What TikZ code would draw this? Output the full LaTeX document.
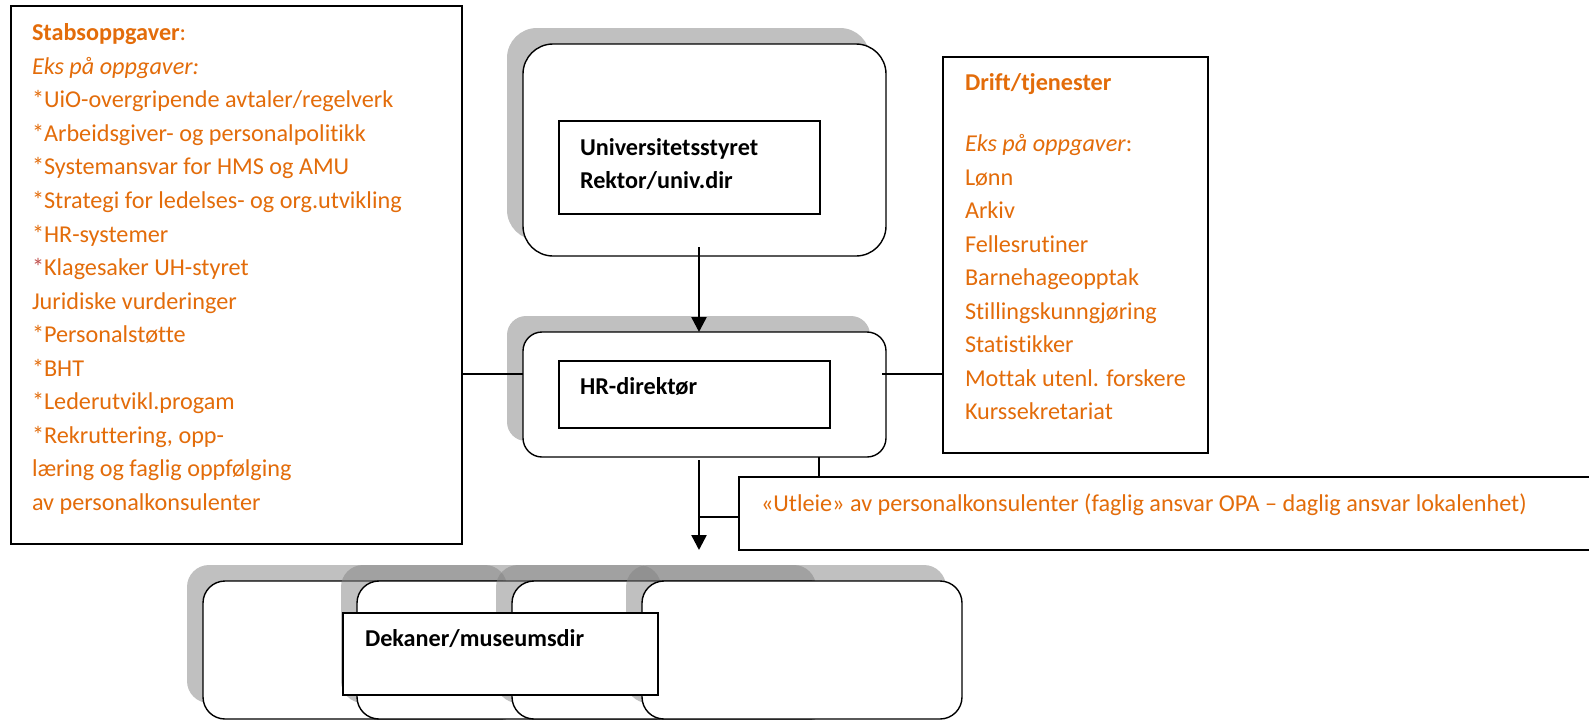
\documentclass[tikz,border=0pt]{standalone}
\usepackage{fontspec}
\setmainfont{Carlito}[Ligatures=NoCommon]
\usetikzlibrary{arrows.meta}
\definecolor{accent}{RGB}{227,108,10}
\definecolor{starred}{RGB}{192,80,77}

\begin{document}
\begin{tikzpicture}[x=1pt,y=-1pt,
  every node/.style={inner sep=0pt, outer sep=0pt},
  frame/.style={draw=black, line width=1.4pt, fill=white},
  rbox/.style={frame, rounded corners=#1},
  shade/.style={fill=black!49, opacity=0.5, draw=none},
  txt/.style={anchor=base west, font=\fontsize{24.2}{28}\selectfont, text=accent},
  btxt/.style={anchor=base west, font=\fontsize{24.2}{28}\selectfont\bfseries, text=black},
  conn/.style={draw=black, line width=1.3pt},
  arr/.style={draw=black, line width=2.5pt, -{Triangle[length=15pt,width=15pt]}},
]
\useasboundingbox (0,0) rectangle (1589,720);

% ---- staff tasks (left) ----
\node[frame, minimum width=451pt, minimum height=538pt] (stab) at (236.5,275) {};
\node[txt] (s0)  at (32,40.7)  {\textbf{Stabsoppgaver}:};
\node[txt] (s1)  at (32,74.3)  {\textit{Eks på oppgaver:}};
\node[txt] (s2)  at (32,107.8) {*UiO-overgripende avtaler/regelverk};
\node[txt] (s3)  at (32,141.4) {*Arbeidsgiver- og personalpolitikk};
\node[txt] (s4)  at (32,174.9) {*Systemansvar for HMS og AMU};
\node[txt] (s5)  at (32,208.5) {*Strategi for ledelses- og org.utvikling};
\node[txt] (s6)  at (32,242.0) {*HR-systemer};
\node[txt] (s7)  at (32,275.6) {\textcolor{starred}{*}Klagesaker UH-styret};
\node[txt] (s8)  at (32,309.1) {Juridiske vurderinger};
\node[txt] (s9)  at (32,342.7) {*Personalstøtte};
\node[txt] (s10) at (32,376.2) {*BHT};
\node[txt] (s11) at (32,409.8) {*Lederutvikl.progam};
\node[txt] (s12) at (32,443.3) {*Rekruttering, opp-};
\node[txt] (s13) at (32,476.9) {læring og faglig oppfølging};
\node[txt] (s14) at (32,510.4) {av personalkonsulenter};

% ---- board / rector ----
\fill[shade, rounded corners=30pt] (507,28) rectangle (870,240);
\node[rbox=30pt, minimum width=363pt, minimum height=212pt] (univ) at (704.5,150) {};
\node[frame, minimum width=261pt, minimum height=93pt] (univT) at (689.5,167.5) {};
\node[btxt] (u1) at (580,155) {Universitetsstyret};
\node[btxt] (u2) at (580,188) {Rektor/univ.dir};

% ---- HR director ----
\fill[shade, rounded corners=19pt] (507,316) rectangle (870,441);
\node[rbox=19pt, minimum width=363pt, minimum height=125pt] (hr) at (704.5,394.5) {};
\node[frame, minimum width=271pt, minimum height=67pt] (hrT) at (694.5,394.5) {};
\node[btxt] (h1) at (580,394) {HR-direktør};

% ---- operations / services (right) ----
\node[frame, minimum width=265pt, minimum height=396pt] (drift) at (1075.5,255) {};
\node[txt] (d0) at (965,90)    {\textbf{Drift/tjenester}};
\node[txt] (d1) at (965,151.7) {\textit{Eks på oppgaver}:};
\node[txt] (d2) at (965,185.2) {Lønn};
\node[txt] (d3) at (965,218.7) {Arkiv};
\node[txt] (d4) at (965,252.2) {Fellesrutiner};
\node[txt] (d5) at (965,285.7) {Barnehageopptak};
\node[txt] (d6) at (965,319.2) {Stillingskunngjøring};
\node[txt] (d7) at (965,352.7) {Statistikker};
\node[txt] (d8) at (965,386.2) {Mottak utenl. forskere};
\node[txt] (d9) at (965,419.7) {Kurssekretariat};

% ---- consultant lending ----
\node[frame, minimum width=861pt, minimum height=73pt] (utleie) at (1169.5,513.5) {};
\node[txt] (ut) at (761,511) {«Utleie» av personalkonsulenter (faglig ansvar OPA – daglig ansvar lokalenhet)};

% ---- faculties / museums ----
\fill[shade, rounded corners=22pt] (187,565) rectangle (507,703);
\node[rbox=22pt, minimum width=320pt, minimum height=138pt] (fak1) at (363,650) {};
\fill[shade, rounded corners=22pt] (341,565) rectangle (661,703);
\node[rbox=22pt, minimum width=320pt, minimum height=138pt] (fak2) at (517,650) {};
\fill[shade, rounded corners=22pt] (496,565) rectangle (816,703);
\node[rbox=22pt, minimum width=320pt, minimum height=138pt] (fak3) at (672,650) {};
\fill[shade, rounded corners=22pt] (626,565) rectangle (946,703);
\node[rbox=22pt, minimum width=320pt, minimum height=138pt] (fak4) at (802,650) {};
\node[frame, minimum width=315pt, minimum height=82pt] (dek) at (500.5,654) {};
\node[btxt] (dk) at (365,646) {Dekaner/museumsdir};

% ---- connectors ----
\coordinate (a1) at (699,247);
\draw[arr] (a1) -- (a1 |- hr.north);
\coordinate (a2) at (699,460);
\coordinate (a2end) at (699,550);
\draw[arr] (a2) -- (a2end);
\coordinate (j1) at (699,517);
\draw[conn] (j1) -- (utleie.west |- j1);
\coordinate (j2) at (819,457);
\draw[conn] (j2) -- (j2 |- utleie.north);
\coordinate (l1) at (462,374);
\draw[conn] (stab.east |- l1) -- (hr.west |- l1);
\coordinate (r1) at (882,374);
\draw[conn] (r1) -- (drift.west |- r1);

\end{tikzpicture}
\end{document}
